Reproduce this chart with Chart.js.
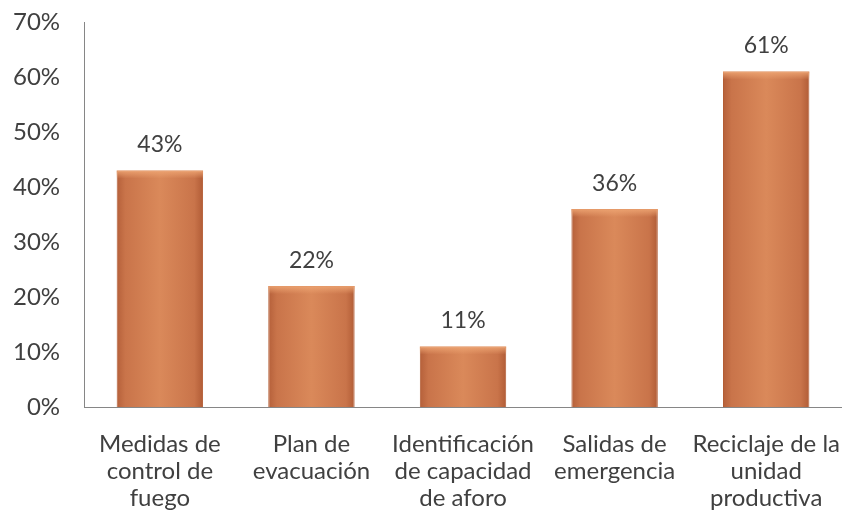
<!DOCTYPE html>
<html>
<head>
<meta charset="utf-8">
<script src="https://cdn.jsdelivr.net/npm/chart.js@4/dist/chart.umd.min.js"></script>
<style>
html,body{margin:0;padding:0;background:#fff;}
#wrap{width:864px;height:527px;position:relative;}
</style>
</head>
<body>
<div id="wrap"><canvas id="barChart"></canvas></div>
<script>
const categories=[
['Medidas de','control de','fuego'],
['Plan de','evacuación'],
['Identificación','de capacidad','de aforo'],
['Salidas de','emergencia'],
['Reciclaje de la','unidad','productiva']
];
const values=[43,22,11,36,61];
const yTicks=[0,10,20,30,40,50,60,70];

const FONT='Lato, "Open Sans", sans-serif';
const BAR_PCT=0.57;

function barFill(context){
const chart=context.chart;
const xs=chart.scales && chart.scales.x;
if(!xs || !chart.chartArea || context.dataIndex===undefined)return '#d27c4c';
const cx=xs.getPixelForValue(context.dataIndex);
const half=(chart.chartArea.width/categories.length)*BAR_PCT/2;
if(!Number.isFinite(cx) || !Number.isFinite(half))return '#d27c4c';
const g=chart.ctx.createLinearGradient(cx-half,0,cx+half,0);
g.addColorStop(0,'#b5603a');
g.addColorStop(0.1,'#c9744a');
g.addColorStop(0.5,'#da895a');
g.addColorStop(0.9,'#c9744a');
g.addColorStop(1,'#b15c36');
return g;
}

const valueLabels={
id:'valueLabels',
afterDatasetsDraw(chart){
const ctx=chart.ctx;
const meta=chart.getDatasetMeta(0);
ctx.save();
ctx.font='23px '+FONT;
ctx.fillStyle='#404040';
ctx.textAlign='center';
ctx.textBaseline='bottom';
meta.data.forEach((bar,i)=>{
ctx.fillText(values[i]+'%',bar.x,bar.y-14);
});
ctx.restore();
}
};

const bevel={
id:'bevel',
afterDatasetsDraw(chart){
const ctx=chart.ctx;
const meta=chart.getDatasetMeta(0);
ctx.save();
meta.data.forEach(bar=>{
const half=bar.width/2;
const g=ctx.createLinearGradient(0,bar.y,0,bar.y+8);
g.addColorStop(0,'rgba(238,165,115,0.9)');
g.addColorStop(1,'rgba(238,165,115,0)');
ctx.fillStyle=g;
ctx.fillRect(bar.x-half,bar.y,bar.width,8);
});
ctx.restore();
}
};

new Chart(document.getElementById('barChart'),{
type:'bar',
data:{
labels:categories,
datasets:[{
data:values,
backgroundColor:barFill,
borderColor:'#b35d35',
borderWidth:1,
categoryPercentage:1,
barPercentage:BAR_PCT
}]
},
options:{
responsive:true,
maintainAspectRatio:false,
animation:false,
layout:{padding:{top:22,right:0,bottom:-9,left:-11}},
plugins:{legend:{display:false},tooltip:{enabled:false}},
scales:{
x:{
grid:{display:false,drawTicks:false},
border:{display:true,color:'#868686',width:1},
ticks:{
color:'#404040',
padding:24,
maxRotation:0,
autoSkip:false,
font:{family:FONT,size:24,lineHeight:'27px'}
}
},
y:{
min:0,
max:70,
afterBuildTicks(axis){axis.ticks=yTicks.map(v=>({value:v}));},
afterFit(axis){axis.paddingTop=0;},
grid:{display:false,drawTicks:false},
border:{display:true,color:'#868686',width:1},
ticks:{
color:'#404040',
padding:24,
font:{family:FONT,size:24},
callback:v=>v+'%'
}
}
}
},
plugins:[bevel,valueLabels]
});
</script>
</body>
</html>
